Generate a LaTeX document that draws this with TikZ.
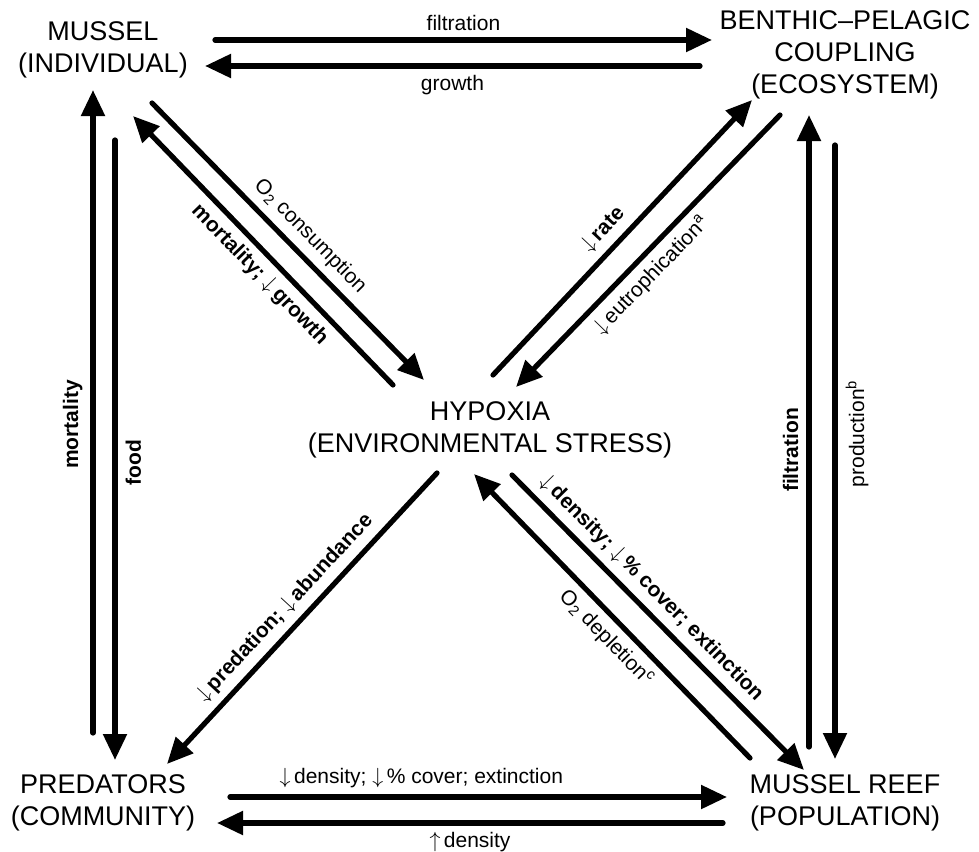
\documentclass[tikz,border=0pt]{standalone}
\usepackage{fontspec}
\setmainfont{Liberation Sans}
\usetikzlibrary{arrows.meta}

\begin{document}
\begin{tikzpicture}[x=0.5pt, y=-0.5pt,
    tier/.style={align=center, inner sep=0pt, font=\fontsize{13.5}{16}\selectfont},
    flow/.style={line width=2.6pt, line cap=round, -{Triangle[length=13pt,width=11.5pt]}},
    lab/.style={sloped, inner sep=3.5pt, font=\fontsize{10.5}{12}\selectfont},
    blab/.style={lab, font=\fontsize{10.5}{12}\selectfont\bfseries},
    vlab/.style={rotate=90, inner sep=4pt, font=\fontsize{10.5}{12}\selectfont},
    bvlab/.style={vlab, font=\fontsize{10.5}{12}\selectfont\bfseries}]
\useasboundingbox (0,0) rectangle (979,851);

% levels of organisation
\node[tier] (mus) at (103,50) {MUSSEL\\(INDIVIDUAL)};
\node[tier] (ben) at (845,55) {BENTHIC--PELAGIC\\COUPLING\\(ECOSYSTEM)};
\node[tier] (hyp) at (490,430) {HYPOXIA\\(ENVIRONMENTAL STRESS)};
\node[tier] (pred) at (103,803) {PREDATORS\\(COMMUNITY)};
\node[tier] (reef) at (845,803) {MUSSEL REEF\\(POPULATION)};

% top pair
\draw[flow] ([shift={(112,-10)}]mus.center) -- node[lab, above] {filtration} ([shift={(-133,-15)}]ben.center);
\draw[flow] ([shift={(-145,11)}]ben.center) -- node[lab, below] {growth} ([shift={(102,16)}]mus.center);

% bottom pair
\draw[flow] ([shift={(127,-6)}]pred.center) -- node[lab, above, pos=0.385] {$\downarrow$\,density; $\downarrow$\,\% cover; extinction} ([shift={(-118,-6)}]reef.center);
\draw[flow] ([shift={(-122,20)}]reef.center) -- node[lab, below] {$\uparrow$\,density} ([shift={(114,20)}]pred.center);

% left side
\draw[flow] ([shift={(-10,-70)}]pred.center) -- node[bvlab, above, pos=0.48] {mortality} ([shift={(-10,40)}]mus.center);
\draw[flow] ([shift={(12,90)}]mus.center) -- node[bvlab, below, pos=0.52] {food} ([shift={(12,-43)}]pred.center);

% right side
\draw[flow] ([shift={(-36,-56)}]reef.center) -- node[bvlab, above, pos=0.47] {filtration} ([shift={(-36,60)}]ben.center);
\draw[flow] ([shift={(-10,90)}]ben.center) -- node[vlab, below, pos=0.47] {production\textsuperscript{b}} ([shift={(-10,-44)}]reef.center);

% to and from hypoxia
\draw[flow] ([shift={(49,53)}]mus.center) -- node[lab, above, pos=0.53] {O\textsubscript{2} consumption} ([shift={(-66,-50)}]hyp.center);
\draw[flow] ([shift={(-97,-45)}]hyp.center) -- node[blab, below, pos=0.46] {mortality; $\downarrow$\,growth} ([shift={(30,66)}]mus.center);
\draw[flow] ([shift={(3,-55)}]hyp.center) -- node[blab, above, pos=0.48] {$\downarrow$\,rate} ([shift={(-93,45)}]ben.center);
\draw[flow] ([shift={(-65,60)}]ben.center) -- node[lab, below, pos=0.54] {$\downarrow$\,eutrophication\textsuperscript{a}} ([shift={(26,-43)}]hyp.center);
\draw[flow] ([shift={(-53,43)}]hyp.center) -- node[blab, above, pos=0.51] {$\downarrow$\,predation; $\downarrow$\,abundance} ([shift={(64,-39)}]pred.center);
\draw[flow] ([shift={(22,45)}]hyp.center) -- node[blab, above, pos=0.43] {$\downarrow$\,density; $\downarrow$\,\% cover; extinction} ([shift={(-41,-33)}]reef.center);
\draw[flow] ([shift={(-95,-45)}]reef.center) -- node[lab, below, pos=0.47] {O\textsubscript{2} depletion\textsuperscript{c}} ([shift={(-16,44)}]hyp.center);
\end{tikzpicture}
\end{document}
